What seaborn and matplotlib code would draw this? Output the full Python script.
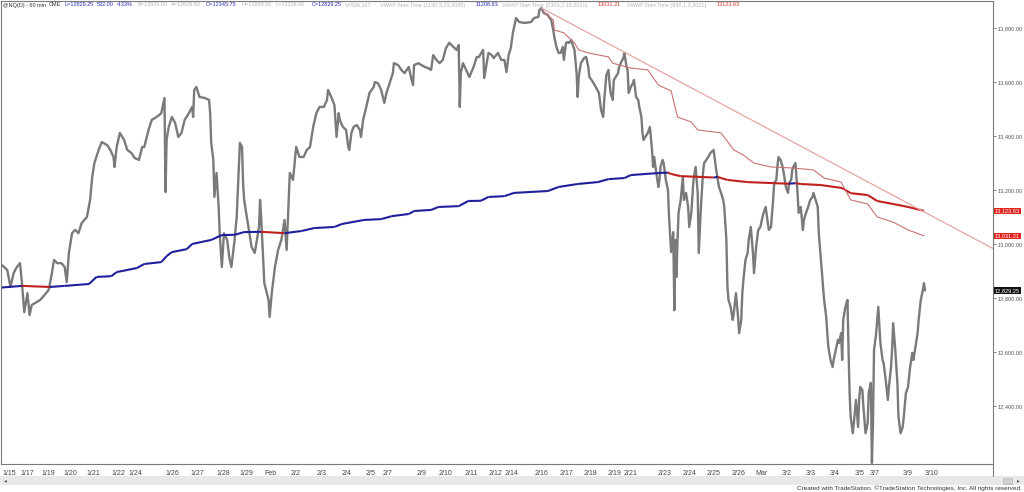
import matplotlib
matplotlib.use("Agg")
import matplotlib.pyplot as plt
from matplotlib.collections import LineCollection
from matplotlib.ticker import FuncFormatter
from matplotlib.patches import Rectangle
import seaborn as sns

# ---- @NQ 60 min closes (bar index counted from the 1/15 session) ----
bar = [0, 5, 8, 11, 14, 17, 19, 21, 24, 26, 28, 31, 36, 40, 44, 47, 49, 52, 56, 59,
       61, 63, 66, 69, 72, 75, 80, 83, 85, 87, 91, 94, 99, 102, 105, 106, 108, 111, 115, 118,
       122, 125, 129, 132, 134, 138, 141, 144, 148, 150, 153, 154, 155, 157, 160, 163, 166, 169, 172, 176,
       179, 180, 181, 183, 186, 191, 195, 196, 197, 199, 200, 202, 204, 205, 207, 209, 212, 214, 216, 219,
       221, 223, 224, 226, 227, 228, 232, 235, 238, 242, 243, 244, 247, 251, 252, 254, 257, 260, 263, 266,
       268, 270, 271, 274, 277, 280, 284, 287, 290, 293, 296, 299, 303, 306, 307, 310, 313, 315, 317, 318,
       321, 324, 326, 327, 329, 331, 334, 337, 338, 340, 343, 346, 350, 351, 354, 357, 360, 362, 365, 368,
       369, 373, 376, 379, 383, 385, 387, 388, 392, 395, 398, 401, 404, 406, 409, 412, 415, 418, 421, 425,
       428, 430, 431, 432, 434, 437, 440, 444, 447, 449, 453, 454, 458, 461, 463, 467, 470, 473, 475, 477,
       479, 481, 484, 487, 492, 498, 501, 505, 506, 508, 510, 514, 515, 517, 519, 520, 522, 524, 526, 528,
       529, 531, 533, 534, 536, 538, 539, 541, 542, 543, 545, 548, 550, 552, 553, 555, 557, 559, 562, 564,
       566, 567, 569, 571, 572, 573, 575, 576, 580, 581, 583, 585, 586, 588, 589, 590, 592, 594, 595, 597,
       599, 600, 602, 603, 604, 608, 610, 612, 613, 614, 616, 618, 619, 620, 622, 623, 625, 627, 628, 630,
       632, 633, 634, 635, 636, 637, 639, 641, 642, 644, 646, 647, 649, 651, 653, 655, 656, 658, 660, 661,
       665, 667, 670, 672, 674, 675, 677, 679, 680, 682, 683, 684, 686, 688, 689, 691, 693, 694, 696, 697,
       698, 700, 702, 703, 705, 707, 708, 710, 712, 714, 716, 717, 719, 721, 722, 724, 726, 727, 729, 730,
       731, 733, 735, 736, 738, 740, 741, 743, 744, 745, 747, 749, 750, 752, 754, 755, 757, 759, 760, 761,
       763, 764, 766, 768, 769, 771, 773, 774, 776, 777, 778, 780, 782, 783, 785, 787, 788, 790, 791, 792,
       794, 796, 797, 798, 799, 801, 802, 804, 806, 807, 808, 810, 811, 813, 815, 816, 818, 819, 820, 821,
       823, 824, 825, 827, 829, 830, 832, 834, 835, 837, 838, 839, 841, 843, 844, 846, 848, 849, 851, 853,
       854, 855, 857, 858, 860, 862, 863, 865, 867, 868, 869]
close = [12923, 12905, 12842, 12893, 12916, 12930, 12849, 12749, 12819, 12738, 12775, 12782, 12794, 12812, 12831, 12893, 12942, 12930, 12930, 12916,
         12860, 12968, 13041, 13053, 13041, 13078, 13101, 13164, 13249, 13300, 13349, 13378, 13367, 13349, 13323, 13286, 13360, 13412, 13386, 13349,
         13337, 13319, 13312, 13360, 13360, 13423, 13460, 13467, 13478, 13485, 13541, 13193, 13386, 13434, 13471, 13449, 13397, 13412, 13460, 13485,
         13508, 13471, 13571, 13582, 13545, 13541, 13534, 13485, 13375, 13312, 13175, 13264, 13138, 13041, 12916, 13041, 13016, 12953, 12916, 13016,
         13101, 13286, 13375, 13360, 13226, 13164, 13064, 12990, 12968, 13064, 13164, 13101, 12856, 12794, 12731, 12819, 12916, 12979, 13016, 13090,
         12979, 13164, 13264, 13238, 13360, 13323, 13323, 13349, 13360, 13434, 13485, 13508, 13508, 13534, 13571, 13545, 13515, 13397, 13485, 13460,
         13434, 13423, 13360, 13349, 13412, 13434, 13441, 13423, 13397, 13460, 13508, 13560, 13582, 13600, 13596, 13571, 13523, 13560, 13596, 13633,
         13670, 13663, 13645, 13633, 13656, 13619, 13589, 13663, 13670, 13663, 13656, 13652, 13645, 13700, 13682, 13670, 13682, 13726, 13745, 13730,
         13719, 13737, 13508, 13633, 13670, 13645, 13619, 13656, 13693, 13693, 13719, 13615, 13708, 13700, 13689, 13708, 13682, 13682, 13637, 13700,
         13726, 13782, 13837, 13822, 13819, 13822, 13837, 13841, 13867, 13874, 13856, 13848, 13841, 13830, 13793, 13767, 13730, 13708, 13708, 13730,
         13682, 13745, 13748, 13745, 13756, 13730, 13719, 13633, 13545, 13619, 13670, 13689, 13693, 13656, 13619, 13608, 13596, 13582, 13560, 13497,
         13471, 13534, 13626, 13645, 13596, 13560, 13534, 13608, 13633, 13656, 13674, 13689, 13708, 13656, 13645, 13560, 13582, 13596, 13608, 13545,
         13534, 13508, 13471, 13412, 13386, 13412, 13434, 13349, 13286, 13323, 13264, 13212, 13238, 13286, 13312, 13300, 13238, 13201, 13101, 12971,
         13045, 12756, 13016, 12879, 13016, 13116, 13164, 13249, 13164, 13190, 13138, 13064, 13116, 13238, 13286, 13190, 12968, 13138, 13264, 13300,
         13323, 13338, 13349, 13286, 13238, 13212, 13190, 13164, 13138, 13016, 12842, 12794, 12768, 12720, 12745, 12819, 12731, 12671, 12720, 12819,
         12868, 12942, 12968, 13016, 13064, 12968, 12893, 12990, 13053, 13064, 13101, 13116, 13138, 13078, 13053, 13064, 13164, 13226, 13238, 13286,
         13323, 13312, 13286, 13264, 13212, 13190, 13226, 13238, 13275, 13286, 13300, 13190, 13116, 13138, 13053, 13090, 13116, 13138, 13153, 13164,
         13175, 13190, 13164, 13138, 13041, 12942, 12842, 12794, 12731, 12671, 12620, 12572, 12546, 12572, 12609, 12646, 12635, 12671, 12572, 12720,
         12768, 12794, 12609, 12450, 12361, 12301, 12338, 12424, 12324, 12424, 12472, 12461, 12398, 12301, 12338, 12450, 12487, 12191, 12338, 12609,
         12671, 12720, 12768, 12635, 12572, 12561, 12498, 12424, 12472, 12546, 12609, 12708, 12609, 12487, 12361, 12301, 12324, 12361, 12450, 12472,
         12509, 12546, 12598, 12572, 12620, 12671, 12720, 12794, 12831, 12856, 12829.25]

# ---- VWAP (930,1,1,2021) ----
vwap_bar = [0, 19, 45, 59, 82, 89, 103, 108, 127, 134, 150, 155, 160, 174, 179, 197, 207, 219, 228, 244,
            266, 282, 294, 313, 320, 341, 357, 367, 383, 388, 404, 411, 430, 439, 451, 458, 473, 482, 514, 524,
            542, 561, 571, 586, 592, 620, 627, 630, 639, 670, 674, 677, 683, 702, 727, 741, 747, 752, 771, 791,
            799, 815, 824, 839, 853, 868]
vwap_val = [12840, 12846, 12842, 12846, 12853, 12879, 12882, 12897, 12912, 12927, 12934, 12956, 12971, 12982, 13001, 13016, 13034, 13035, 13045, 13046,
            13041, 13049, 13060, 13064, 13075, 13090, 13093, 13104, 13112, 13123, 13127, 13138, 13141, 13160, 13161, 13175, 13178, 13190, 13197, 13212,
            13223, 13230, 13241, 13245, 13256, 13264, 13265, 13260, 13252, 13247, 13249, 13245, 13238, 13230, 13226, 13224, 13226, 13223, 13219, 13208,
            13189, 13182, 13160, 13149, 13138, 13123.63]

# ---- VWAP (2300,2,15,2021) ----
vwap2_bar = [510, 519, 520, 529, 539, 543, 552, 571, 575, 592, 608, 618, 630, 636, 649, 655, 677, 689, 698, 708,
             724, 745, 764, 774, 790, 799, 815, 824, 839, 853, 868]
vwap2_val = [13859, 13830, 13793, 13782, 13745, 13719, 13708, 13693, 13670, 13652, 13645, 13589, 13567, 13471, 13452, 13423, 13412, 13349, 13330, 13300,
             13286, 13282, 13275, 13245, 13230, 13164, 13149, 13101, 13082, 13053, 13031.21]

# ---- downtrend line from the 2/16 high ----
trend_bar = [508, 933]
trend_val = [13874, 12984]

tick_bar = [7, 24, 44, 64, 86, 110, 126, 160, 184, 208, 230, 253, 276, 301, 324, 347, 363, 395, 418, 442,
            465, 480, 508, 531, 554, 577, 592, 624, 647, 670, 693, 715, 739, 761, 784, 807, 822, 853, 875]
tick_lab = ["1/15", "1/17", "1/19", "1/20", "1/21", "1/22", "1/24", "1/26", "1/27", "1/28", "1/29", "Feb", "2/2", "2/3", "2/4", "2/5", "2/7", "2/9", "2/10", "2/11",
            "2/12", "2/14", "2/16", "2/17", "2/18", "2/19", "2/21", "2/23", "2/24", "2/25", "2/26", "Mar", "3/2", "3/3", "3/4", "3/5", "3/7", "3/9", "3/10"]
price_ticks = [12400, 12600, 12800, 13000, 13200, 13400, 13600, 13800]

last_vals = [13123.63, 13031.21, 12829.25]
last_cols = ["#e3231f", "#e3231f", "#111111"]

sns.set_style("white")
plt.rcParams["font.family"] = ["Liberation Sans", "DejaVu Sans"]

fig = plt.figure(figsize=(10.24, 4.92), dpi=100)
ax = fig.add_axes([1 / 1024, 28 / 492, 992 / 1024, 463 / 492])

sns.lineplot(x=bar, y=close, estimator=None, sort=False, color="#7a7a7a", lw=1.7, ax=ax)

# vwap coloured by slope: blue rising, red falling
segs, cols = [], []
for i in range(len(vwap_bar) - 1):
    segs.append([(vwap_bar[i], vwap_val[i]), (vwap_bar[i + 1], vwap_val[i + 1])])
    cols.append("#1f1f9c" if vwap_val[i + 1] >= vwap_val[i] else "#c0201c")
ax.add_collection(LineCollection(segs, colors=cols, linewidths=1.5, zorder=3))

ax.plot(vwap2_bar, vwap2_val, color="#c87272", lw=0.8, zorder=3)
ax.plot(trend_bar, trend_val, color="#e8a4a4", lw=0.9, zorder=3)

ax.set_xlim(-0.9, 933)
ax.set_ylim(12187, 13900)

ax.set_xticks(tick_bar)
ax.set_xticklabels(tick_lab)
ax.yaxis.tick_right()
ax.set_yticks(price_ticks)
ax.yaxis.set_major_formatter(FuncFormatter(lambda v, p: f"{v:,.2f}"))
ax.tick_params(axis="x", length=3, width=0.6, color="#777777", labelsize=5, labelcolor="#444444", pad=1)
ax.tick_params(axis="y", length=2.5, width=0.6, color="#777777", labelsize=4.1, labelcolor="#555555", pad=0.5)
ax.set_xlabel("")
ax.set_ylabel("")
for s in ax.spines.values():
    s.set_color("#7a7a7a")
    s.set_linewidth(0.8)

# last value boxes on the price scale
for v, c in zip(last_vals, last_cols):
    ax.text(1.002, v, f"{v:,.2f}", transform=ax.get_yaxis_transform(), ha="left", va="center",
            fontsize=4.1, color="white", bbox=dict(boxstyle="square,pad=0.12", fc=c, ec="none"), clip_on=False)

# status line, segments chained left to right
header = [("@NQ(D) - 60 min", "#333333", 1), ("CME", "#333333", 49),
          ("L=12829.25", "#2b2bb8", 63), ("532.00", "#2b2bb8", 97), ("4.33%", "#2b2bb8", 117),
          ("B=12829.00", "#b4b4b4", 137), ("A=12829.50", "#b4b4b4", 171), ("O=12345.75", "#2b2bb8", 206),
          ("H=12858.50", "#b4b4b4", 241), ("L=12326.00", "#b4b4b4", 276), ("C=12829.25", "#2b2bb8", 312),
          ("V=526,167", "#b4b4b4", 345), ("VWAP Start Time (1130,3,23,2020)", "#b4b4b4", 380),
          ("11208.63", "#2b2bb8", 476), ("VWAP Start Time (2300,2,15,2021)", "#b4b4b4", 500),
          ("13031.21", "#e03030", 598), ("VWAP Start Time (930,1,1,2021)", "#b4b4b4", 627),
          ("13123.63", "#e03030", 717)]
renderer = fig.canvas.get_renderer()
prev_end = 0
for t, c, x in header:
    x0 = max(x, prev_end + 3)
    txt = fig.text(x0 / 1024, 1 - 5 / 492, t, color=c, fontsize=4.0, ha="left", va="center")
    prev_end = txt.get_window_extent(renderer).x1

# scroll bar strip and footer
fig.patches.append(Rectangle((0, 7 / 492), 1, 9 / 492, transform=fig.transFigure, fc="#e8e8e8", ec="none"))
fig.patches.append(Rectangle((1003 / 1024, 8.5 / 492), 9 / 1024, 6 / 492, transform=fig.transFigure, fc="#cfcfcf", ec="#aaaaaa", lw=0.4))
fig.text(4 / 1024, 11.5 / 492, "◂", fontsize=4, color="#555555", va="center")
fig.text(1017 / 1024, 11.5 / 492, "▸", fontsize=4, color="#555555", va="center")
fig.lines.append(plt.Line2D([993 / 1024, 993 / 1024], [16 / 492, 28 / 492], transform=fig.transFigure, color="#7a7a7a", lw=0.8))
fig.text(1022 / 1024, 3.5 / 492, "Created with TradeStation. \u00a9TradeStation Technologies, Inc. All rights reserved.",
         fontsize=4.6, color="#333333", ha="right", va="center")

fig.savefig("out.png", dpi=100)
